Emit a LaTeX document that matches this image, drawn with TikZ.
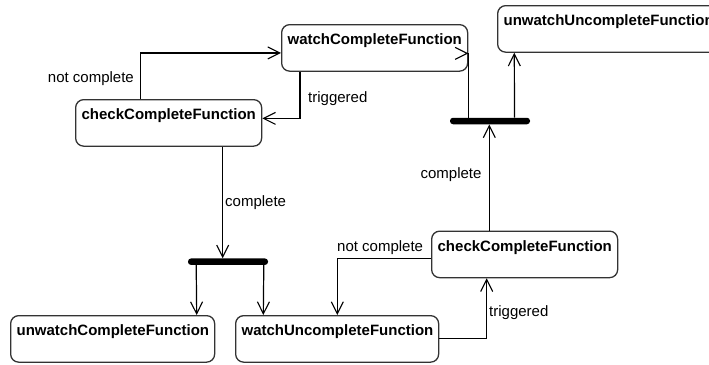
\documentclass[tikz,border=0pt]{standalone}
\usepackage{fontspec}
\setmainfont{Liberation Sans}
\usetikzlibrary{arrows.meta,calc}
\tikzset{
  box/.style={draw=black!80, line width=1.3pt, rounded corners=8pt, anchor=north west,
    inner xsep=6pt, inner ysep=0pt, text height=20pt, text depth=26.5pt, align=left,
    font=\fontsize{15}{18}\selectfont\bfseries},
  bar/.style={fill=black, rounded corners=3pt, minimum height=6.5pt, inner sep=0pt},
  arr/.style={line width=1.2pt, -{Straight Barb[length=12pt,width=12pt,line width=1.1pt]}},
  lbl/.style={inner sep=0pt, font=\fontsize{15}{18}\selectfont},
}
\begin{document}
\begin{tikzpicture}[x=1pt,y=-1pt]
\useasboundingbox (0,0) rectangle (709,364);
\fill[white] (0,0) rectangle (709,364);
\clip (0,0) rectangle (709,364);
% states
\node[box, text width=174pt] (wCF) at (281,24) {watchCompleteFunction};
\node[box, text width=174pt] (cCF1) at (75,99) {checkCompleteFunction};
\node[box, text width=210pt] (uUF) at (497,5) {unwatchUncompleteFunction};
\node[box, text width=174pt] (cCF2) at (431,230.5) {checkCompleteFunction};
\node[box, text width=191pt] (wUF) at (235,315) {watchUncompleteFunction};
\node[box, text width=192pt] (uCF) at (10,315) {unwatchCompleteFunction};
% fork bars
\node[bar, minimum width=80pt] (bar1) at (228,261.7) {};
\node[bar, minimum width=80pt] (bar2) at (490,121) {};
% transitions
\draw[arr] ([xshift=65.7pt]cCF1.north west) |- ([yshift=-5pt]wCF.west);
\node[lbl, anchor=base east] (l1) at (134,82.7) {not complete};
\draw[arr] ([xshift=19pt]wCF.south west) |- ([yshift=4.5pt]cCF1.east);
\node[lbl, anchor=base west] (l2) at (308,102) {triggered};
\draw[arr] ([xshift=147.7pt]cCF1.south west) -- ([xshift=-5.3pt]bar1.north);
\node[lbl, anchor=base west] (l3) at (225,206) {complete};
\draw[arr] ([xshift=8.4pt]bar1.south west) -- ([xshift=186.7pt]uCF.north west);
\draw[arr] ([xshift=-4.4pt]bar1.south east) -- ([xshift=28.3pt]wUF.north west);
\draw[arr] ([yshift=-4.3pt]cCF2.west) -| ([xshift=102.3pt]wUF.north west);
\node[lbl, anchor=base west] (l4) at (337,251) {not complete};
\draw[arr] ([yshift=0.5pt]wUF.east) -| ([xshift=55.7pt]cCF2.south west);
\node[lbl, anchor=base west] (l5) at (489,316.5) {triggered};
\draw[arr] ([xshift=58.3pt]cCF2.north west) -- ([xshift=-0.7pt]bar2.south);
\node[lbl, anchor=base east] (l6) at (481.7,178.5) {complete};
\draw[arr] ([xshift=18.3pt]bar2.north west) |- ([yshift=-5.5pt]wCF.east);
\draw[arr] ([xshift=-15.7pt]bar2.north east) -- ([xshift=17.3pt]uUF.south west);
\end{tikzpicture}
\end{document}
